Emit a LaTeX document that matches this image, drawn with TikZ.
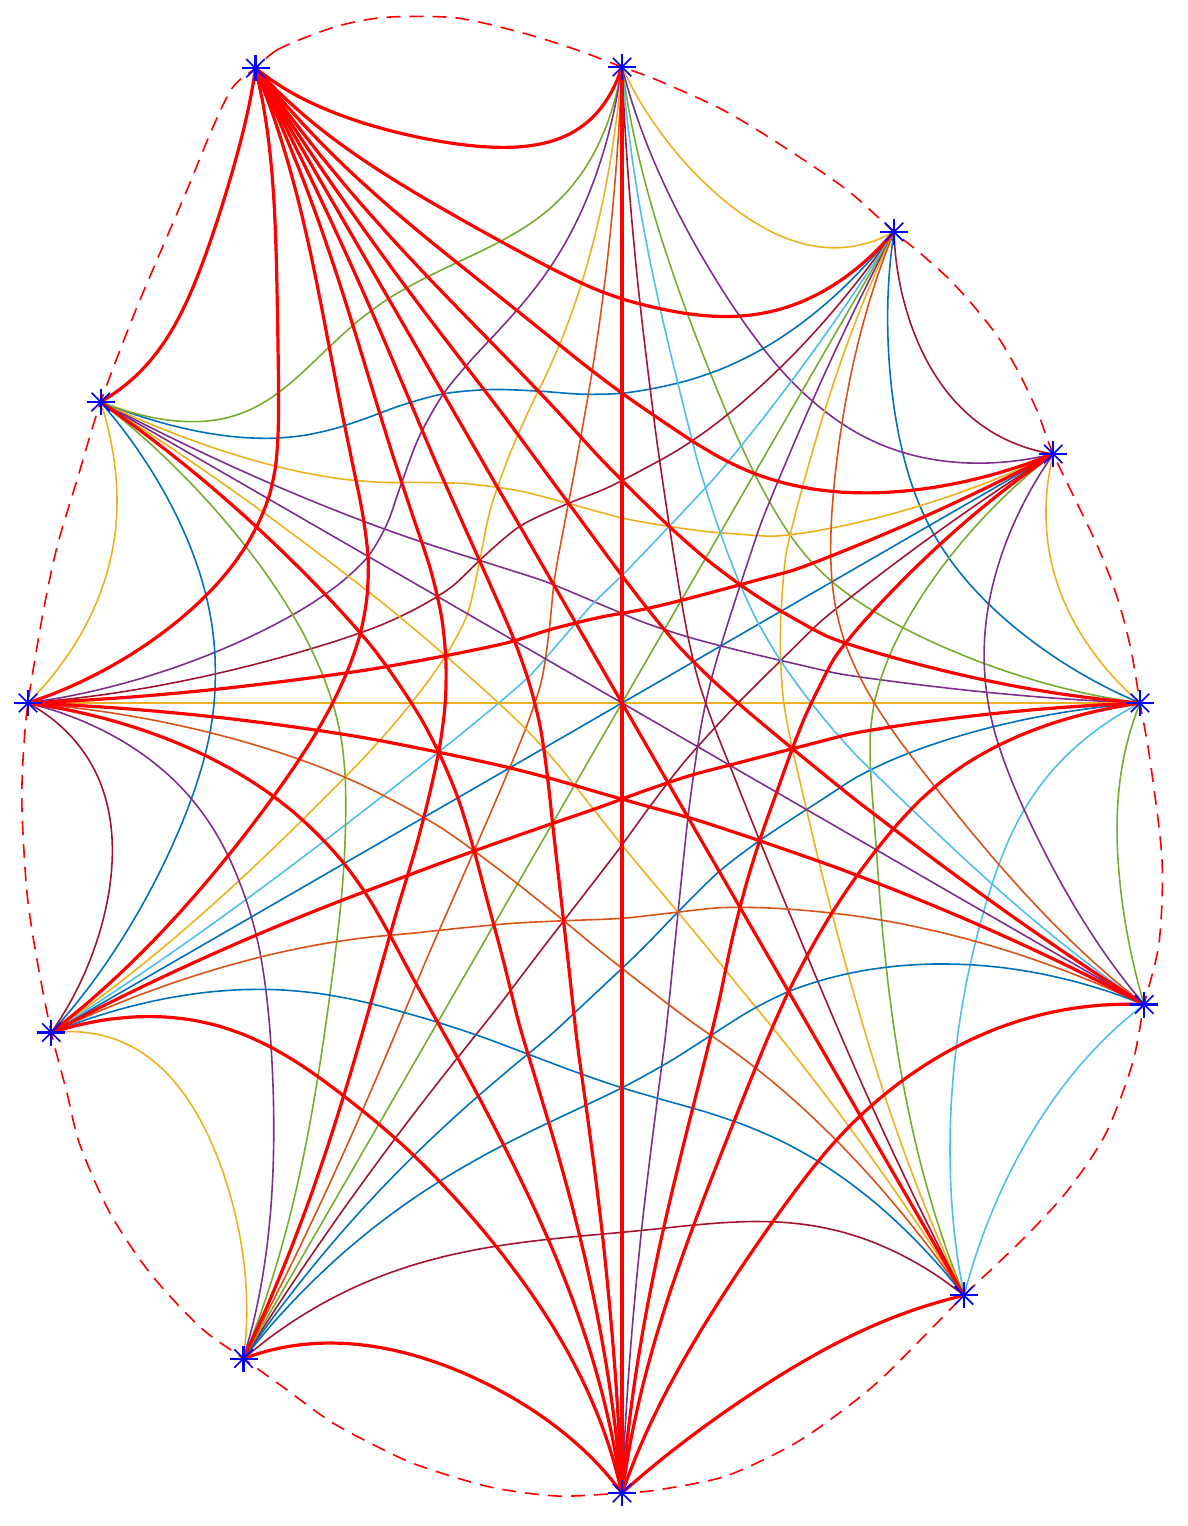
\documentclass[tikz,border=0pt]{standalone}
\definecolor{mB}{HTML}{0072BD}
\definecolor{mO}{HTML}{D95319}
\definecolor{mY}{HTML}{EDB120}
\definecolor{mP}{HTML}{7E2F8E}
\definecolor{mG}{HTML}{77AC30}
\definecolor{mL}{HTML}{4DBEEE}
\definecolor{mM}{HTML}{A2142F}
\def\radii{{518,498,544,636,733,602,594,659,757,790,684,603}}
\def\gRho{0.87}
\tikzset{
  thinedge/.style={line width=0.8pt,line cap=round,line join=round},
  eB/.style={thinedge,draw=mB},
  eO/.style={thinedge,draw=mO},
  eY/.style={thinedge,draw=mY},
  eP/.style={thinedge,draw=mP},
  eG/.style={thinedge,draw=mG},
  eL/.style={thinedge,draw=mL},
  eM/.style={thinedge,draw=mM},
  eR/.style={draw=red,line width=1.6pt,line cap=round,line join=round},
  boundary/.style={draw=red,line width=0.8pt,dash pattern=on 7pt off 4.5pt},
  ast/.pic={
    \draw[blue,line width=1.1pt] (-7pt,0)--(7pt,0) (0,-6.5pt)--(0,6.5pt);
    \draw[blue,line width=0.8pt] (-4.6pt,-4.6pt)--(4.6pt,4.6pt) (-4.6pt,4.6pt)--(4.6pt,-4.6pt);
  }
}
% #1,#2 vertex indices, #3 style, #4 depth factor
\newcommand\geoedge[4]{%
  \pgfmathsetmacro\gTa{30*#1}%
  \pgfmathsetmacro\gTb{30*#2}%
  \pgfmathsetmacro\gDd{\gTb-\gTa}%
  \pgfmathsetmacro\gHalf{(\gDd<180.5)?(\gDd/2):((\gDd-360)/2)}%
  \pgfmathsetmacro\gAl{abs(\gHalf)}%
  \ifdim\gAl pt>89pt
    \draw[#3] (P#1) -- (P#2);
  \else
    \pgfmathsetmacro\gAx{622+rkv(#1)*cos(\gTa)}%
    \pgfmathsetmacro\gAy{703-rkv(#1)*sin(\gTa)}%
    \pgfmathsetmacro\gBx{622+rkv(#2)*cos(\gTb)}%
    \pgfmathsetmacro\gBy{703-rkv(#2)*sin(\gTb)}%
    \pgfmathsetmacro\gTm{\gTa+\gHalf}%
    \pgfmathsetmacro\gD{(\gRho*\gRho+1)/(2*\gRho*cos(\gAl))}%
    \pgfmathsetmacro\gR{sqrt(\gD*\gD-1)}%
    \pgfmathsetmacro\gCx{\gD*cos(\gTm)}%
    \pgfmathsetmacro\gCy{\gD*sin(\gTm)}%
    \pgfmathsetmacro\gPa{atan2(\gRho*sin(\gTa)-\gCy,\gRho*cos(\gTa)-\gCx)}%
    \pgfmathsetmacro\gPb{atan2(\gRho*sin(\gTb)-\gCy,\gRho*cos(\gTb)-\gCx)}%
    \pgfmathsetmacro\gSw{mod(\gPb-\gPa+540,360)-180}%
    \gdef\gPts{}%
    \foreach \s in {1,...,23}{%
      \pgfmathsetmacro\gT{\s/24}%
      \pgfmathsetmacro\gPhi{\gPa+\gSw*\gT}%
      \pgfmathsetmacro\gPx{\gCx+\gR*cos(\gPhi)}%
      \pgfmathsetmacro\gPy{\gCy+\gR*sin(\gPhi)}%
      \pgfmathsetmacro\gS{sqrt(\gPx*\gPx+\gPy*\gPy)}%
      \pgfmathsetmacro\gSig{\gS/\gRho}%
      \pgfmathsetmacro\gAng{mod(atan2(\gPy,\gPx)+360,360)}%
      \pgfmathsetmacro\gRe{640+(crw(\gAng)-640)*min(1,\gSig/0.45)}%
      \pgfmathsetmacro\gF{\gSig*(1-0.2*(1-\gSig)^4)}%
      \pgfmathsetmacro\gW{\gF*\gRe/\gS}%
      \pgfmathsetmacro\gLx{\gAx+(\gBx-\gAx)*\gT}%
      \pgfmathsetmacro\gLy{\gAy+(\gBy-\gAy)*\gT}%
      \pgfmathsetmacro\gX{\gLx+#4*(622+\gPx*\gW-\gLx)}%
      \pgfmathsetmacro\gY{\gLy+#4*(703-\gPy*\gW-\gLy)}%
      \xdef\gPts{\gPts(\gX,\gY) }%
    }%
    \draw[#3] plot[smooth] coordinates {(P#1) \gPts (P#2)};
  \fi}
\begin{document}
\begin{tikzpicture}[x=0.5pt,y=-0.5pt,
  declare function={
    rkv(\n)=\radii[int(mod(\n+12,12))];
    crh(\n,\u)=0.5*(2*rkv(\n)+(rkv(\n+1)-rkv(\n-1))*\u+(2*rkv(\n-1)-5*rkv(\n)+4*rkv(\n+1)-rkv(\n+2))*\u*\u+(3*rkv(\n)-rkv(\n-1)-3*rkv(\n+1)+rkv(\n+2))*\u*\u*\u);
    crw(\a)=crh(floor(\a/30),\a/30-floor(\a/30));
  }]
\useasboundingbox (0,0) rectangle (1188,1526);
\foreach \k/\r in {0/518,1/498,2/544,3/636,4/733,5/602,6/594,7/659,8/757,9/790,10/684,11/603}
  \coordinate (P\k) at ({622+\r*cos(30*\k)},{703-\r*sin(30*\k)});
% dashed outline
\draw[boundary] plot[smooth cycle,tension=0.5] coordinates {
  (P4) (277,50) (317,33) (350,23) (390,17) (457,18) (523,33) (577,50)
  (P3) (657,80) (723,110) (781,145) (847,190)
  (P2) (920,253) (950,280) (977,310) (1000,340) (1020,375) (1038,413)
  (P1) (1097,545) (1118,600) (1131,650)
  (P0) (1150,760) (1162,860) (1159,943)
  (P11) (1132,1065) (1105,1135) (1068,1190) (1030,1232) (995,1266)
  (P10) (880,1380) (820,1427) (781,1451) (723,1477) (657,1490)
  (P9) (557,1496) (490,1487) (423,1467) (390,1453) (333,1423) (283,1387)
  (P8) (200,1327) (150,1273) (110,1213) (80,1145) (67,1093)
  (P7) (37,960) (27,893) (22,810) (23,760)
  (P6) (43,613) (57,547) (77,480)
  (P5) (133,317) (160,253) (187,190) (213,127) (233,87)};
% thin coloured geodesics
\foreach \i/\j/\c/\l in {0/1/eY/0.6,0/2/eB/0.77,0/3/eG/1,0/5/eP/1,0/6/eY/1,0/8/eB/1,0/10/eL/0.78,0/11/eG/0.4,
  1/2/eM/0.79,1/3/eP/0.95,1/5/eY/1,1/7/eB/1,1/8/eM/1,1/10/eG/1,1/11/eP/0.78,
  2/3/eY/1,2/5/eB/1,2/6/eM/1,2/7/eL/1,2/8/eG/1,2/9/eP/1,2/10/eY/1,2/11/eO/1,
  3/5/eG/1.15,3/6/eP/1,3/7/eY/1,3/8/eO/1,3/10/eM/1,3/11/eL/1,
  5/6/eY/0.59,5/7/eB/0.86,5/8/eG/1,5/10/eY/1,5/11/eP/1,
  6/7/eM/1,6/8/eP/1,6/10/eO/1,
  7/8/eY/1.14,7/10/eB/1,7/11/eO/1,
  8/10/eM/0.85,8/11/eB/1,
  10/11/eL/0.4}{\geoedge{\i}{\j}{\c}{\l}}
% red geodesics
\foreach \i/\j/\l in {0/4/1,0/7/1,0/9/1,1/4/1,1/6/1,1/9/1,2/4/1.07,3/4/1.29,3/9/1,
  4/5/0.57,4/6/0.9,4/7/1,4/8/1,4/9/1,4/10/1,4/11/1,
  5/9/1,6/9/1,6/11/1,7/9/1.04,8/9/0.79,9/10/0.32,9/11/0.78}{\geoedge{\i}{\j}{eR}{\l}}
% vertex markers
\foreach \k in {0,...,11} \pic (M\k) at (P\k) {ast};
\end{tikzpicture}
\end{document}
